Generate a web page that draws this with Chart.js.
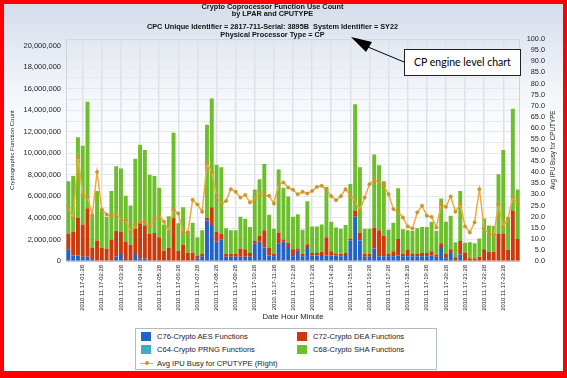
<!DOCTYPE html>
<html><head><meta charset="utf-8">
<script src="https://cdn.jsdelivr.net/npm/chart.js@4/dist/chart.umd.min.js"></script>
<style>
html,body{margin:0;padding:0;}
body{width:567px;height:378px;position:relative;overflow:hidden;background:linear-gradient(to bottom,#d3dcea 0px,#e2e8f2 40px,#f4f6fa 95px,#ffffff 150px);font-family:"Liberation Sans",Arial,sans-serif;}
#c{position:absolute;left:0;top:0;}
#frame{position:absolute;left:0;top:0;width:567px;height:378px;box-sizing:border-box;border:4px solid #ff0000;border-bottom-width:7px;pointer-events:none;}
#legend{position:absolute;left:135px;top:328px;width:302px;height:42px;background:#fff;border:1px solid #b5bac2;box-sizing:border-box;font-size:7.6px;color:#222;}
.li{position:absolute;height:10px;display:flex;align-items:center;white-space:nowrap;}
.sw{width:10px;height:9px;margin-right:6px;box-sizing:border-box;}
.ln{width:13px;height:9px;margin-right:4px;position:relative;}
.ln i{position:absolute;left:0;top:4px;width:13px;height:1.5px;}
.ln b{position:absolute;left:4.5px;top:2.5px;width:4px;height:4px;border-radius:50%;}
#callout{position:absolute;left:404px;top:49px;width:117px;height:27px;box-sizing:border-box;border:1px solid #222;background:#fff;font-family:Lato,"Open Sans",sans-serif;font-size:10.5px;line-height:25px;text-align:center;color:#000;}
#arrow{position:absolute;left:0;top:0;pointer-events:none;}
</style></head>
<body>
<canvas id="c" width="567" height="378"></canvas>
<div id="legend"></div>
<svg id="arrow" width="567" height="378"><line x1="404" y1="62" x2="368" y2="47" stroke="#000" stroke-width="1"/><polygon points="351,37 366,52 372,42" fill="#000"/></svg>
<div id="callout">CP engine level chart</div>
<div id="frame"></div>
<script>
const datePrefix = '2010.11.17-';
const times = ['00:43','00:58','01:13','01:28','01:43','01:58','02:13','02:28','02:43','02:58','03:13','03:28','03:43','03:58','04:13','04:28','04:43','04:58','05:13','05:28','05:43','05:58','06:13','06:28','06:43','06:58','07:13','07:28','07:43','07:58','08:13','08:28','08:43','08:58','09:13','09:28','09:43','09:58','10:13','10:28','10:43','10:58','11:13','11:28','11:43','11:58','12:13','12:28','12:43','12:58','13:13','13:28','13:43','13:58','14:13','14:28','14:43','14:58','15:13','15:28','15:43','15:58','16:13','16:28','16:43','16:58','17:13','17:28','17:43','17:58','18:13','18:28','18:43','18:58','19:13','19:28','19:43','19:58','20:13','20:28','20:43','20:58','21:13','21:28','21:43','21:58','22:13','22:28','22:43','22:58','23:13','23:28','23:43','23:58','00:13'];
const tickLabels = ['2010.11.17-01:28','2010.11.17-02:28','2010.11.17-03:28','2010.11.17-04:28','2010.11.17-05:28','2010.11.17-06:28','2010.11.17-07:28','2010.11.17-08:28','2010.11.17-09:28','2010.11.17-10:28','2010.11.17-11:28','2010.11.17-12:28','2010.11.17-13:28','2010.11.17-14:28','2010.11.17-15:28','2010.11.17-16:28','2010.11.17-17:28','2010.11.17-18:28','2010.11.17-19:28','2010.11.17-20:28','2010.11.17-21:28','2010.11.17-22:28','2010.11.17-23:28'];
// left axis grid values (millions); labels shown on even ones
const leftTicksM = [0,1,2,3,4,5,6,7,8,9,10,11,12,13,14,15,16,17,18,19,20];
// millions of functions
const aesM = [1.1,0.5,0.5,0.4,0.4,0.1,0.05,0,0,0,0.4,0.65,0.05,0,0.75,0.2,0.2,0,0,0,0,0,0,0,0,0,0,0.25,0.45,3.75,3.35,1.8,2.0,0.4,0.4,0.4,0.4,0.4,0.4,1.6,1.8,1.25,0.5,0.45,1.65,1.8,1.3,0.45,0.95,0.45,1.3,0.5,0.5,0.55,0.5,0.5,0.5,0.45,0.55,1.9,4.1,1.9,0.4,0.4,1.15,0.45,0.45,0.45,0.45,0.5,0.45,0.45,0.45,0.45,0.45,0.45,0.5,0.4,1.3,0.25,0.75,0,0.6,0,0,0,0,0,0,0,0,0,0,0,0];
const deaM = [1.4,2.2,3.5,3.0,4.5,1.1,1.85,1.2,1.15,1.95,2.4,2.05,1.75,1.5,2.25,3.3,3.05,2.5,2.6,2.2,0.95,1.2,4.0,0.95,1.5,0.75,0.8,0.25,0.2,0.25,1.65,0.95,0.5,0.25,0.25,0.25,0.75,0.7,0.35,0.25,0.55,1.6,0.7,0.25,1.0,0.2,0.4,0.65,0.2,0.2,0.25,0.25,0.25,0.3,1.7,0.4,0.2,0.2,0.2,0.2,0.6,0.75,0.25,0.25,1.95,2.4,1.9,0.2,0.45,1.55,0.2,0.6,0.25,0.25,0.3,0.3,0.4,0.2,0.35,0.4,0.35,0.35,1.25,0.8,0.25,0.25,0.4,1.1,0.85,0.85,2.55,2.55,1.05,4.7,2.05];
const prngM = new Array(95).fill(0);
const shaM = [4.9,5.2,7.5,7.3,9.9,3.05,4.6,3.6,2.95,4.55,6.0,5.9,4.25,3.65,6.5,7.3,7.05,5.5,5.3,4.6,2.45,2.95,7.9,2.55,3.5,2.05,2.75,1.7,2.2,8.65,10.1,6.2,6.2,2.4,2.2,2.2,2.95,2.8,2.4,4.8,5.25,6.15,3.1,2.3,5.85,4.8,4.3,3.0,3.2,2.25,4.0,2.45,2.45,2.55,4.7,2.75,2.4,2.35,2.6,5.05,9.85,6.05,2.35,2.35,6.8,6.05,5.05,2.25,2.65,4.7,2.3,1.8,2.1,2.35,2.4,2.4,2.75,2.2,4.15,3.0,3.1,1.4,4.65,0.9,1.5,1.4,1.7,2.85,2.45,2.4,5.5,7.75,2.9,9.45,4.6];
const ipuBusy = [24.1,19.2,47,29.7,29,20.7,40.2,23.2,21,20.2,21.7,18.4,18.4,13.3,16.5,17.7,17.7,15.7,18.6,20.7,17.7,13.2,23.2,21.4,12.9,12.9,27.6,25.5,22.2,44.1,40.2,29.4,25.6,27.1,32.4,31.2,28.6,29.8,26.4,27.9,31.3,29.4,29.4,25.9,34.6,35.4,33.1,32.1,30.1,31.2,30.4,31.6,33.4,33.9,32.1,29.2,27.4,29.2,32.4,29.4,26.8,22.9,28.6,34.6,36.6,35.4,33.9,30.1,23.4,22.3,19.6,15.6,14.7,21.9,24.9,20.4,19.9,15.1,25.6,24.4,29.1,22.2,25.8,15.6,12.9,17.4,32.4,14.7,12.1,11.7,25.6,15.4,19.2,28.9,25.8];
const seriesNames = ['C76-Crypto AES Functions','C72-Crypto DEA Functions','C64-Crypto PRNG Functions','C68-Crypto SHA Functions','Avg IPU Busy for CPUTYPE (Right)'];
const colors = {aes:'#2562c6', dea:'#cb3a0b', prng:'#39afc4', sha:'#6cbf2b', line:'#f0ac3c', pt:'#c9952c'};
const M = 1000000;
const FF = '"Liberation Sans", Arial, sans-serif';

const labels = times.map(t => datePrefix + t);
const toCount = a => a.map(v => Math.round(v * M));

const frame = {
  id:'frame',
  beforeDatasetsDraw(chart){
    const {ctx, chartArea:a} = chart;
    ctx.save(); ctx.strokeStyle='#cfd4db'; ctx.lineWidth=1;
    ctx.strokeRect(a.left+0.5, a.top+0.5, a.right-a.left-1, a.bottom-a.top-1);
    ctx.restore();
  },
  afterDraw(chart){
    const {ctx, chartArea:a} = chart;
    ctx.save();
    ctx.translate(553, (a.top + a.bottom) / 2);
    ctx.rotate(-Math.PI/2);
    ctx.font = '6.3px ' + FF; ctx.fillStyle = '#222';
    ctx.textAlign='center'; ctx.textBaseline='middle';
    ctx.fillText('Avg IPU Busy for CPUTYPE', 0, 0);
    ctx.restore();
  }
};

const chart = new Chart(document.getElementById('c'), {
  type:'bar',
  data:{
    labels: labels,
    datasets:[
      {label:seriesNames[0], data:toCount(aesM), backgroundColor:colors.aes, yAxisID:'y', order:2},
      {label:seriesNames[1], data:toCount(deaM), backgroundColor:colors.dea, yAxisID:'y', order:2},
      {label:seriesNames[2], data:toCount(prngM), backgroundColor:colors.prng, yAxisID:'y', order:2},
      {label:seriesNames[3], data:toCount(shaM), backgroundColor:colors.sha, yAxisID:'y', order:2},
      {type:'line', label:seriesNames[4], data:ipuBusy, yAxisID:'y1', order:1, borderColor:colors.line, borderWidth:1.5, pointRadius:1.7, pointBackgroundColor:colors.pt, pointBorderColor:colors.pt, pointBorderWidth:0.5, tension:0}
    ]
  },
  options:{
    responsive:false, animation:false, devicePixelRatio:1,
    datasets:{bar:{categoryPercentage:1.0, barPercentage:0.82}},
    layout:{padding:{left:0,right:22,top:0,bottom:56}},
    plugins:{
      legend:{display:false}, tooltip:{enabled:false},
      title:{display:true, text:['Crypto Coprocessor Function Use Count','by LPAR and CPUTYPE'], color:'#111', font:{family:FF, size:7.3, weight:'bold', lineHeight:1}, padding:{top:3,bottom:6}},
      subtitle:{display:true, text:['CPC Unique Identifier = 2817-711-Serial: 3895B  System Identifier = SY22','Physical Processor Type = CP'], color:'#111', font:{family:FF, size:7.3, weight:'bold', lineHeight:1}, padding:{top:0,bottom:1}}
    },
    scales:{
      x:{stacked:true, offset:true,
        grid:{offset:false, drawTicks:false, lineWidth:1.5, color:(c)=> (c.index % 4 === 3) ? '#dde1e6' : 'rgba(0,0,0,0)'},
        border:{color:'#c3c8cf'},
        ticks:{autoSkip:false, maxRotation:90, minRotation:90, padding:4, color:'#222', font:{family:FF, size:5.9},
          callback:function(v){const l=this.getLabelForValue(v); return tickLabels.includes(l) ? l : '';}},
        title:{display:true, text:'Date Hour Minute', color:'#222', font:{family:FF, size:7.8}, padding:{top:2,bottom:0}},
        afterFit:(s)=>{s.height=61;}
      },
      y:{stacked:true, position:'left', min:0, max:20600000,
        afterBuildTicks:(s)=>{ s.ticks = leftTicksM.map(m => ({value: m * M})); },
        ticks:{autoSkip:false, padding:5, color:'#222', font:{family:FF, size:7.5},
          callback:(v)=> (Math.round(v / M) % 2 === 0) ? Math.round(v).toLocaleString('en-US') : ''},
        grid:{drawTicks:false, color:'#e5e8ec'},
        border:{color:'#c3c8cf'},
        title:{display:true, text:'Cryptographic Function Count', color:'#222', font:{family:FF, size:6}, padding:{top:8.4,bottom:0}},
        afterFit:(s)=>{s.width=66;}
      },
      y1:{position:'right', min:0, max:100,
        ticks:{stepSize:5, autoSkip:false, padding:3, crossAlign:'far', color:'#222', font:{family:FF, size:7.3}, callback:(v)=>Number(v).toFixed(1)},
        grid:{display:false, drawTicks:false},
        border:{display:false},
        afterFit:(s)=>{s.width=25;}
      }
    }
  },
  plugins:[frame]
});

// HTML legend built from the chart's datasets
const lg = document.getElementById('legend');
const pos = [[5,2],[161,2],[5,15],[161,15],[4,29]];
chart.data.datasets.forEach((ds, i) => {
  const d = document.createElement('div'); d.className='li';
  d.style.left = pos[i][0]+'px'; d.style.top = pos[i][1]+'px';
  if (ds.type === 'line') {
    d.innerHTML = '<span class="ln"><i style="background:'+ds.borderColor+'"></i><b style="background:'+ds.pointBackgroundColor+'"></b></span>';
  } else {
    d.innerHTML = '<span class="sw" style="background:'+ds.backgroundColor+'"></span>';
  }
  const t = document.createElement('span'); t.textContent = ds.label; d.appendChild(t);
  lg.appendChild(d);
});
</script>
</body></html>
